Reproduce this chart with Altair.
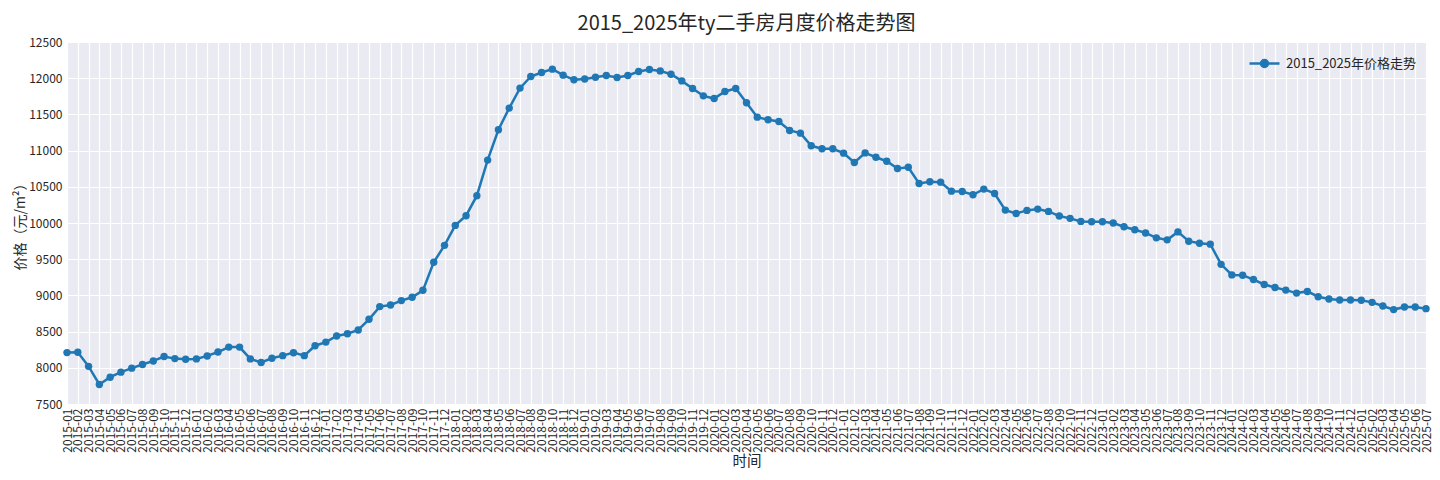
import altair as alt
import pandas as pd

# month labels 2015-01 .. 2025-07
months = [f"{y}-{m:02d}" for y in range(2015, 2026) for m in range(1, 13)][:127]

prices = [
    8210, 8215, 8020, 7770, 7870, 7940, 7995, 8045, 8095, 8155, 8127, 8118,
    8123, 8164, 8218, 8286, 8286, 8123, 8073, 8132, 8168, 8209, 8168, 8305,
    8355, 8440, 8470, 8523, 8670, 8845, 8868, 8928, 8974, 9070, 9457, 9691,
    9967, 10101, 10377, 10869, 11288, 11587, 11863, 12024, 12079, 12125, 12042, 11978,
    11990, 12014, 12037, 12009, 12037, 12092, 12120, 12101, 12055, 11963, 11857, 11756,
    11719, 11816, 11857, 11660, 11462, 11425, 11402, 11278, 11241, 11066, 11025, 11025,
    10965, 10835, 10968, 10908, 10853, 10752, 10770, 10546, 10569, 10564, 10440, 10435,
    10390, 10468, 10408, 10178, 10132, 10174, 10192, 10160, 10096, 10064, 10022, 10018,
    10018, 9999, 9949, 9906, 9863, 9795, 9767, 9877, 9749, 9721, 9708, 9429,
    9283, 9279, 9219, 9151, 9110, 9073, 9032, 9055, 8982, 8950, 8936, 8936,
    8932, 8904, 8854, 8804, 8840, 8840, 8817,
]

series_name = "2015_2025年价格走势"
y_ticks = [7500, 8000, 8500, 9000, 9500, 10000, 10500, 11000, 11500, 12000, 12500]

df = pd.DataFrame({"时间": months, "价格": prices, "series": series_name})

FONT = "Noto Sans CJK SC"
BLUE = "#1f77b4"

legend_path = "M-1.5,0L1.5,0M-0.35,0a0.35,0.35 0 1,0 0.7,0a0.35,0.35 0 1,0 -0.7,0"

chart = (
    alt.Chart(df)
    .mark_line(
        strokeWidth=2.5,
        point=alt.OverlayMarkDef(filled=True, size=55, opacity=1),
    )
    .encode(
        x=alt.X(
            "时间:O",
            sort=months,
            scale=alt.Scale(type="point", padding=0),
            axis=alt.Axis(
                title="时间",
                labelAngle=270,
                labelFontSize=12,
                titleFontSize=14.5,
                titleFontWeight="normal",
                titlePadding=2,
                labelPadding=4,
                grid=True,
            ),
        ),
        y=alt.Y(
            "价格:Q",
            scale=alt.Scale(domain=[7500, 12500], nice=False, zero=False),
            axis=alt.Axis(
                title="价格（元/m²）",
                values=y_ticks,
                labelFontSize=12,
                titleFontSize=14,
                titleFontWeight="normal",
                titlePadding=1,
                labelPadding=5,
                format="d",
            ),
        ),
        color=alt.Color(
            "series:N",
            scale=alt.Scale(range=[BLUE]),
            legend=alt.Legend(
                title=None,
                orient="top-right",
                offset=10,
                symbolType=legend_path,
                symbolSize=400,
                symbolStrokeWidth=2.5,
                symbolFillColor=BLUE,
                symbolStrokeColor=BLUE,
                labelFontSize=13,
                labelOffset=10,
                labelColor="#262626",
            ),
        ),
    )
    .properties(
        width=1359,
        height=362,
        title=alt.TitleParams(
            "2015_2025年ty二手房月度价格走势图",
            fontSize=20,
            fontWeight="normal",
            color="#262626",
            anchor="middle",
            offset=2,
        ),
        autosize=alt.AutoSizeParams(type="none"),
        padding={"left": 59, "top": 34, "right": 6, "bottom": 68},
    )
    .configure(font=FONT)
    .configure_view(fill="#EAEAF2", stroke=None)
    .configure_axis(
        domain=False,
        ticks=False,
        gridColor="white",
        gridWidth=1.2,
        gridOpacity=1,
        labelColor="#262626",
        titleColor="#262626",
        labelFont=FONT,
        titleFont=FONT,
    )
    .configure_legend(labelFont=FONT)
    .configure_title(font=FONT)
)

chart.save("out.html", embed_options={"renderer": "svg", "actions": False})
